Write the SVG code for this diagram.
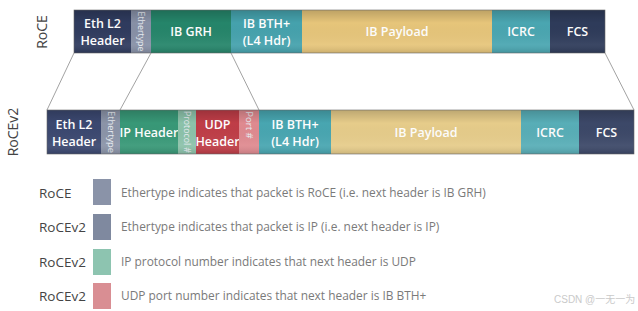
<svg xmlns="http://www.w3.org/2000/svg" width="638" height="311" viewBox="0 0 638 311">
<style>
.bt{font-family:"Open Sans","Liberation Sans",sans-serif;font-size:12.5px;font-weight:600;fill:#ffffff;text-anchor:middle}
.vt{font-family:"Open Sans","Liberation Sans",sans-serif;font-size:9.5px;fill:#e8ecf2;text-anchor:middle}
.rl{font-family:"Open Sans","Liberation Sans",sans-serif;font-size:14px;fill:#444;text-anchor:middle}
.ll{font-family:"Open Sans","Liberation Sans",sans-serif;font-size:13.5px;fill:#444}
.ld{font-family:"Open Sans","Liberation Sans",sans-serif;font-size:11.9px;fill:#7a7a7a}
.wm{font-family:"Liberation Sans","Noto Sans CJK SC",sans-serif;font-size:10px;fill:#cacaca}
.ln{stroke:#8a8a8a;stroke-width:0.8;fill:none}
.sh{fill:url(#shade)}
</style>
<defs>
<linearGradient id="shade" x1="0" y1="0" x2="0" y2="1">
<stop offset="0" stop-color="#000" stop-opacity="0.18"/>
<stop offset="0.3" stop-color="#000" stop-opacity="0"/>
<stop offset="0.8" stop-color="#fff" stop-opacity="0.06"/>
<stop offset="1" stop-color="#000" stop-opacity="0.12"/>
</linearGradient>
</defs>
<rect width="638" height="311" fill="#ffffff"/>

<text class="rl" transform="translate(47,32) rotate(-90)">RoCE</text>
<text class="rl" transform="translate(18,132) rotate(-90)">RoCEv2</text>

<g id="roce-row">
<g id="r1-eth"><rect x="74" y="10" width="57" height="43" fill="#2f3b5e"/><text class="bt" x="102.5" y="28">Eth L2</text><text class="bt" x="102.5" y="45">Header</text></g>
<g id="r1-ethertype"><rect x="131" y="10" width="20" height="43" fill="#8790a6"/><text class="vt" transform="translate(138,31.5) rotate(90)" textLength="40" lengthAdjust="spacingAndGlyphs">Ethertype</text></g>
<g id="r1-grh"><rect x="151" y="10" width="80" height="43" fill="#25856a"/><text class="bt" x="191" y="36">IB GRH</text></g>
<g id="r1-bth"><rect x="231" y="10" width="71" height="43" fill="#45a2ad"/><text class="bt" x="266.5" y="28">IB BTH+</text><text class="bt" x="266.5" y="45">(L4 Hdr)</text></g>
<g id="r1-payload"><rect x="302" y="10" width="190" height="43" fill="#e6c57a"/><text class="bt" x="397" y="36">IB Payload</text></g>
<g id="r1-icrc"><rect x="492" y="10" width="58" height="43" fill="#4aa6b1"/><text class="bt" x="521" y="36">ICRC</text></g>
<g id="r1-fcs"><rect x="550" y="10" width="55" height="43" fill="#2e3b5a"/><text class="bt" x="577.5" y="36">FCS</text></g>
<rect class="sh" x="74" y="10" width="531" height="43"/>
<rect x="74" y="10" width="531" height="43" fill="none" stroke="#666" stroke-width="0.6"/>
</g>

<g id="connectors">
<line class="ln" x1="74" y1="53" x2="47" y2="110"/>
<line class="ln" x1="151" y1="53" x2="120" y2="110"/>
<line class="ln" x1="231" y1="53" x2="259" y2="110"/>
<line class="ln" x1="605" y1="53" x2="634" y2="110"/>
</g>

<g id="rocev2-row">
<g id="r2-eth"><rect x="47" y="110" width="54" height="44" fill="#3b4870"/><text class="bt" x="74" y="129">Eth L2</text><text class="bt" x="74" y="146">Header</text></g>
<g id="r2-ethertype"><rect x="101" y="110" width="19" height="44" fill="#8b94a8"/><text class="vt" transform="translate(107.5,132) rotate(90)" textLength="42" lengthAdjust="spacingAndGlyphs">Ethertype</text></g>
<g id="r2-ip"><rect x="120" y="110" width="58" height="44" fill="#389877"/><text class="bt" x="149" y="136.5">IP Header</text></g>
<g id="r2-proto"><rect x="178" y="110" width="18" height="44" fill="#8cc2aa"/><text class="vt" transform="translate(184,132) rotate(90)" textLength="42" lengthAdjust="spacingAndGlyphs">Protocol #</text></g>
<g id="r2-udp"><rect x="196" y="110" width="43" height="44" fill="#bf3d47"/><text class="bt" x="217.5" y="129">UDP</text><text class="bt" x="217.5" y="146">Header</text></g>
<g id="r2-port"><rect x="239" y="110" width="20" height="44" fill="#df8a90"/><text class="vt" transform="translate(246,125) rotate(90)">Port #</text></g>
<g id="r2-bth"><rect x="259" y="110" width="72" height="44" fill="#48a6b1"/><text class="bt" x="295" y="129">IB BTH+</text><text class="bt" x="295" y="146">(L4 Hdr)</text></g>
<g id="r2-payload"><rect x="331" y="110" width="190" height="44" fill="#e6cc8a"/><text class="bt" x="426" y="136.5">IB Payload</text></g>
<g id="r2-icrc"><rect x="521" y="110" width="58" height="44" fill="#58aeb7"/><text class="bt" x="550" y="136.5">ICRC</text></g>
<g id="r2-fcs"><rect x="579" y="110" width="55" height="44" fill="#3c4868"/><text class="bt" x="606.5" y="136.5">FCS</text></g>
<rect class="sh" x="47" y="110" width="587" height="44"/>
<rect x="47" y="110" width="587" height="44" fill="none" stroke="#666" stroke-width="0.6"/>
</g>

<g id="legend">
<g id="lg1"><text class="ll" x="39" y="197.5">RoCE</text><rect x="93" y="179" width="18" height="26" fill="#8a93a8"/><text class="ld" x="121" y="196.5">Ethertype indicates that packet is RoCE (i.e. next header is IB GRH)</text></g>
<g id="lg2"><text class="ll" x="39" y="231.5">RoCEv2</text><rect x="93" y="214" width="18" height="26" fill="#7f899f"/><text class="ld" x="121" y="231">Ethertype indicates that packet is IP (i.e. next header is IP)</text></g>
<g id="lg3"><text class="ll" x="39" y="266.5">RoCEv2</text><rect x="93" y="249" width="18" height="26" fill="#8dc4b0"/><text class="ld" x="121" y="265.5">IP protocol number indicates that next header is UDP</text></g>
<g id="lg4"><text class="ll" x="39" y="300.5">RoCEv2</text><rect x="93" y="283" width="18" height="26" fill="#d98e93"/><text class="ld" x="121" y="300">UDP port number indicates that next header is IB BTH+</text></g>
</g>

<text class="wm" x="554" y="303">CSDN @一无一为</text>
</svg>
